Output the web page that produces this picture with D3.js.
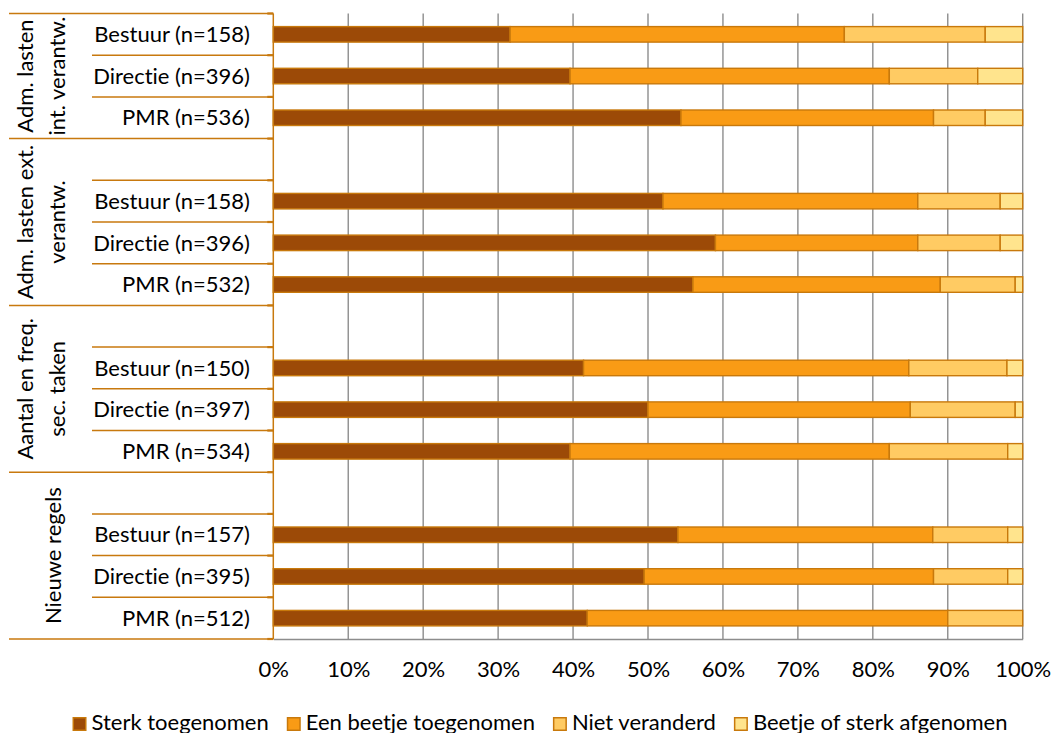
<!DOCTYPE html>
<html>
<head>
<meta charset="utf-8">
<script src="https://cdn.jsdelivr.net/npm/d3@7"></script>
<style>
  html, body { margin: 0; padding: 0; background: #fff; }
  svg { display: block; font-family: Lato, "Open Sans", sans-serif; font-variant-ligatures: none; font-feature-settings: "liga" 0, "clig" 0; }
</style>
</head>
<body>
<svg id="chart" width="1053" height="733"></svg>
<script>
// ---------- data ----------
const groupLabels = [
  ["Adm. lasten", "int. verantw."],
  ["Adm. lasten ext.", "verantw."],
  ["Aantal en freq.", "sec. taken"],
  ["Nieuwe regels"]
];
const categories = [
  "Bestuur (n=158)", "Directie (n=396)", "PMR (n=536)",
  "Bestuur (n=158)", "Directie (n=396)", "PMR (n=532)",
  "Bestuur (n=150)", "Directie (n=397)", "PMR (n=534)",
  "Bestuur (n=157)", "Directie (n=395)", "PMR (n=512)"
];
const categoryGroup = [0, 0, 0, 1, 1, 1, 2, 2, 2, 3, 3, 3];
const seriesNames = ["Sterk toegenomen", "Een beetje toegenomen", "Niet veranderd", "Beetje of sterk afgenomen"];
const sterkToegenomen   = [31.6, 39.6, 54.4, 52.0, 59.0, 56.0, 41.4, 50.0, 39.6, 54.0, 49.5, 41.9];
const beetjeToegenomen  = [44.6, 42.6, 33.7, 34.0, 27.0, 33.0, 43.4, 35.0, 42.6, 34.0, 38.6, 48.1];
const nietVeranderd     = [18.8, 11.8,  6.9, 11.0, 11.0, 10.0, 13.1, 14.0, 15.8, 10.0,  9.9, 10.0];
const afgenomen         = [ 5.0,  6.0,  5.0,  3.0,  3.0,  1.0,  2.1,  1.0,  2.0,  2.0,  2.0,  0.0];
const tickValues = [0, 10, 20, 30, 40, 50, 60, 70, 80, 90, 100];

// ---------- styling ----------
const colors = ["#9c4a07", "#f99b15", "#ffcb63", "#ffe48d"];
const barStroke = "#c8790c";
const axisOrange = "#c8790e";
const gridGray = "#8d8d8d";
const fontSize = 22;

const svg = d3.select("#chart");
const plotLeft = 273.3, plotRight = 1022.7, plotTop = 13.5, plotBottom = 639;

// slots: blank slot before every group but the first
const slots = [];
groupLabels.forEach((g, gi) => {
  if (gi > 0) slots.push({ key: "blank" + gi, group: gi, blank: true });
  categories.forEach((c, ci) => {
    if (categoryGroup[ci] === gi) slots.push({ key: "c" + ci, group: gi, blank: false, idx: ci });
  });
});

const x = d3.scaleLinear().domain([0, 100]).range([plotLeft, plotRight]);
const y = d3.scaleBand().domain(slots.map(s => s.key)).range([plotTop, plotBottom]);

// gridlines
svg.append("g").selectAll("line").data(tickValues.filter(t => t > 0)).join("line")
  .attr("x1", d => x(d)).attr("x2", d => x(d))
  .attr("y1", plotTop).attr("y2", plotBottom)
  .attr("stroke", gridGray).attr("stroke-width", 1.4);

// bottom axis (gray line + labels)
const xAxis = d3.axisBottom(x).tickValues(tickValues).tickFormat(d => d + "%").tickSize(0);
const gx = svg.append("g").attr("transform", `translate(0,${plotBottom})`).call(xAxis);
gx.select(".domain").attr("stroke", gridGray).attr("stroke-width", 1.4);
gx.selectAll("text").attr("y", 38).attr("dy", 0)
  .attr("font-family", "Lato, sans-serif").attr("font-size", fontSize).attr("fill", "#000");

// stacked bars
const seriesVals = [sterkToegenomen, beetjeToegenomen, nietVeranderd, afgenomen];
const stackData = categories.map((c, i) => {
  const o = { key: "c" + i };
  seriesNames.forEach((s, si) => o[s] = seriesVals[si][i]);
  return o;
});
const stacked = d3.stack().keys(seriesNames)(stackData);
const barH = 15.5;
svg.append("g").selectAll("g").data(stacked).join("g")
  .attr("fill", (d, i) => colors[i])
  .selectAll("rect").data(d => d.filter(p => p[1] - p[0] > 0)).join("rect")
  .attr("x", p => x(p[0]))
  .attr("width", p => x(p[1]) - x(p[0]))
  .attr("y", p => y(p.data.key) + y.bandwidth() / 2 - barH / 2)
  .attr("height", barH)
  .attr("stroke", barStroke).attr("stroke-width", 1.4);

// left category axis
const gl = svg.append("g");
gl.append("line").attr("x1", plotLeft).attr("x2", plotLeft)
  .attr("y1", plotTop).attr("y2", plotBottom)
  .attr("stroke", axisOrange).attr("stroke-width", 1.5);

// boundaries
const boundaries = [];
slots.forEach((s, i) => {
  const isGroupStart = i === 0 || slots[i - 1].group !== s.group;
  boundaries.push({ y: y(s.key), outer: isGroupStart });
});
boundaries.push({ y: plotBottom, outer: true });
gl.selectAll("line.b").data(boundaries).join("line").attr("class", "b")
  .attr("x1", d => d.outer ? 9 : 92).attr("x2", plotLeft)
  .attr("y1", d => d.y).attr("y2", d => d.y)
  .attr("stroke", axisOrange).attr("stroke-width", 1.5);
gl.selectAll("line.t").data(boundaries).join("line").attr("class", "t")
  .attr("x1", plotLeft - 6).attr("x2", plotLeft)
  .attr("y1", d => d.y).attr("y2", d => d.y)
  .attr("stroke", axisOrange).attr("stroke-width", 2.2);

// category labels
gl.selectAll("text.cat").data(slots.filter(s => !s.blank)).join("text").attr("class", "cat")
  .attr("x", 250).attr("y", s => y(s.key) + y.bandwidth() / 2)
  .attr("dy", "0.35em").attr("text-anchor", "end")
  .attr("font-size", fontSize).attr("fill", "#000")
  .text(s => categories[s.idx]);

// group labels (rotated)
groupLabels.forEach((lines, gi) => {
  const gs = slots.filter(s => s.group === gi);
  const y0 = y(gs[0].key), y1 = y(gs[gs.length - 1].key) + y.bandwidth();
  const cy = (y0 + y1) / 2;
  const baselines = lines.length === 2 ? [33, 65] : [61];
  lines.forEach((ln, li) => {
    svg.append("text")
      .attr("transform", `translate(${baselines[li]},${cy}) rotate(-90)`)
      .attr("text-anchor", "middle").attr("font-size", fontSize).attr("fill", "#000")
      .text(ln);
  });
});

// legend
const legend = svg.append("g");
let lx = 0;
const items = [];
seriesNames.forEach((name, i) => {
  const g = legend.append("g");
  g.append("rect").attr("x", 0.75).attr("y", 717.75).attr("width", 12.5).attr("height", 12.5)
    .attr("fill", colors[i]).attr("stroke", barStroke).attr("stroke-width", 1.5);
  const t = g.append("text").attr("x", 19).attr("y", 729.5)
    .attr("font-size", fontSize).attr("fill", "#000").text(name);
  const w = 19 + t.node().getComputedTextLength();
  items.push({ g, w });
});
const gap = 18;
const totalW = d3.sum(items, d => d.w) + gap * (items.length - 1);
lx = 540 - totalW / 2;
items.forEach(it => { it.g.attr("transform", `translate(${lx},0)`); lx += it.w + gap; });
</script>
</body>
</html>
